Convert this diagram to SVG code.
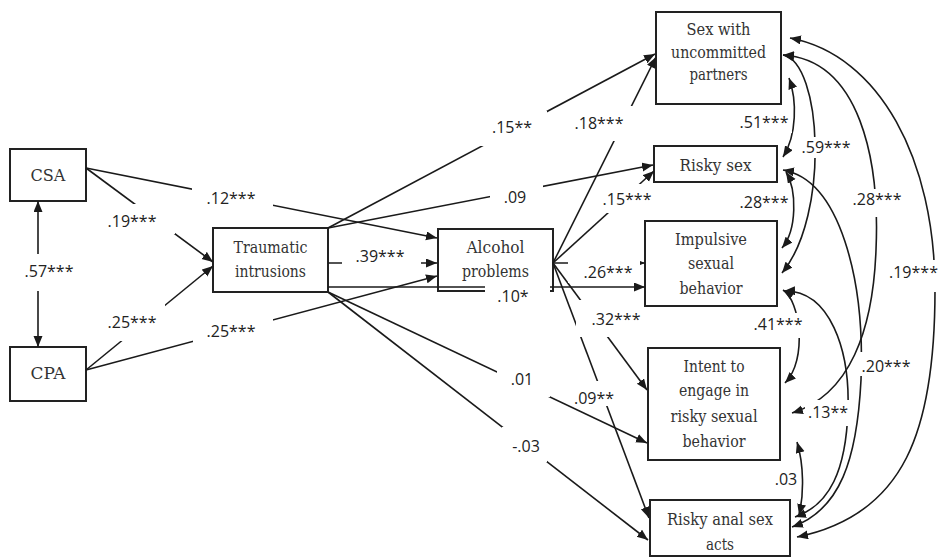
<svg xmlns="http://www.w3.org/2000/svg" width="941" height="558" viewBox="0 0 941 558">
<style>
.box{fill:#fff;stroke:#222;stroke-width:2}
.nt{font-family:'DejaVu Serif',serif;font-size:16.5px;fill:#333;text-anchor:middle}
.ln{fill:none;stroke:#1a1a1a;stroke-width:1.6}
.lb{font-family:'Open Sans','Liberation Sans',sans-serif;font-size:16px;fill:#222;text-anchor:middle}
.bg{fill:#fff;stroke:none}
</style>
<defs>
<marker id="ah" markerUnits="userSpaceOnUse" markerWidth="12" markerHeight="10" refX="11" refY="4.5" orient="auto-start-reverse">
<path d="M0,0 L11,4.5 L0,9 z" fill="#1a1a1a"/>
</marker>
</defs>
<rect width="941" height="558" fill="#fff"/>

<g id="n-csa"><rect class="box" x="10" y="149" width="76" height="52"/><text class="nt" x="48" y="181" textLength="35" lengthAdjust="spacingAndGlyphs">CSA</text></g>
<g id="n-cpa"><rect class="box" x="10" y="347" width="76" height="54"/><text class="nt" x="48" y="379" textLength="35" lengthAdjust="spacingAndGlyphs">CPA</text></g>
<g id="n-trauma"><rect class="box" x="213" y="228" width="115" height="64"/><text class="nt" x="270.5" y="253" textLength="74" lengthAdjust="spacingAndGlyphs">Traumatic</text><text class="nt" x="270.5" y="277" textLength="71" lengthAdjust="spacingAndGlyphs">intrusions</text></g>
<g id="n-alcohol"><rect class="box" x="438" y="229" width="115" height="62"/><text class="nt" x="495.5" y="253" textLength="58" lengthAdjust="spacingAndGlyphs">Alcohol</text><text class="nt" x="495.5" y="277" textLength="67" lengthAdjust="spacingAndGlyphs">problems</text></g>
<g id="n-sex"><rect class="box" x="656" y="12" width="125" height="92"/><text class="nt" x="718.5" y="35" textLength="64" lengthAdjust="spacingAndGlyphs">Sex with</text><text class="nt" x="718.5" y="58" textLength="95" lengthAdjust="spacingAndGlyphs">uncommitted</text><text class="nt" x="718.5" y="80" textLength="58" lengthAdjust="spacingAndGlyphs">partners</text></g>
<g id="n-risky"><rect class="box" x="654" y="146" width="123" height="36"/><text class="nt" x="715.5" y="171" textLength="72" lengthAdjust="spacingAndGlyphs">Risky sex</text></g>
<g id="n-impulsive"><rect class="box" x="645" y="221" width="132" height="85"/><text class="nt" x="711" y="245" textLength="72" lengthAdjust="spacingAndGlyphs">Impulsive</text><text class="nt" x="711" y="269" textLength="46" lengthAdjust="spacingAndGlyphs">sexual</text><text class="nt" x="711" y="294" textLength="63" lengthAdjust="spacingAndGlyphs">behavior</text></g>
<g id="n-intent"><rect class="box" x="648" y="348" width="132" height="112"/><text class="nt" x="714" y="372" textLength="61" lengthAdjust="spacingAndGlyphs">Intent to</text><text class="nt" x="714" y="396" textLength="70" lengthAdjust="spacingAndGlyphs">engage in</text><text class="nt" x="714" y="422" textLength="87" lengthAdjust="spacingAndGlyphs">risky sexual</text><text class="nt" x="714" y="447" textLength="63" lengthAdjust="spacingAndGlyphs">behavior</text></g>
<g id="n-anal"><rect class="box" x="650" y="500" width="140" height="56"/><text class="nt" x="720" y="525" textLength="106" lengthAdjust="spacingAndGlyphs">Risky anal sex</text><text class="nt" x="720" y="550" textLength="28" lengthAdjust="spacingAndGlyphs">acts</text></g>

<g id="connectors">
<path class="ln" d="M38,201 L38,347" marker-start="url(#ah)" marker-end="url(#ah)"/>
<path class="ln" d="M86,168 L213,262" marker-end="url(#ah)"/>
<path class="ln" d="M86,370 L213,266" marker-end="url(#ah)"/>
<path class="ln" d="M86,168 L437,238" marker-end="url(#ah)"/>
<path class="ln" d="M86,370 L437,276" marker-end="url(#ah)"/>
<path class="ln" d="M328,263 L437,263" marker-end="url(#ah)"/>
<path class="ln" d="M328,228 L655,54" marker-end="url(#ah)"/>
<path class="ln" d="M328,228 L653,165" marker-end="url(#ah)"/>
<path class="ln" d="M328,287 L645,287" marker-end="url(#ah)"/>
<path class="ln" d="M328,292 L647,443" marker-end="url(#ah)"/>
<path class="ln" d="M328,292 L648,540" marker-end="url(#ah)"/>
<path class="ln" d="M553,263 L656,57" marker-end="url(#ah)"/>
<path class="ln" d="M553,263 L654,171" marker-end="url(#ah)"/>
<path class="ln" d="M553,263 L645,263" marker-end="url(#ah)"/>
<path class="ln" d="M553,263 L647,390" marker-end="url(#ah)"/>
<path class="ln" d="M553,263 L649,518" marker-end="url(#ah)"/>
<path class="ln" d="M789,78 C797,100 797,135 783,157" marker-start="url(#ah)" marker-end="url(#ah)"/>
<path class="ln" d="M783,55 C822,62 830,215 782,273" marker-start="url(#ah)" marker-end="url(#ah)"/>
<path class="ln" d="M783,55 C860,60 880,160 876,250 C873,330 850,395 792,413" marker-start="url(#ah)" marker-end="url(#ah)"/>
<path class="ln" d="M790,38 C880,55 935,160 935,290 C935,430 905,515 797,537" marker-start="url(#ah)" marker-end="url(#ah)"/>
<path class="ln" d="M786,172 C797,190 797,230 782,248" marker-start="url(#ah)" marker-end="url(#ah)"/>
<path class="ln" d="M783,170 C840,180 865,280 861,380 C857,460 840,510 792,527" marker-start="url(#ah)" marker-end="url(#ah)"/>
<path class="ln" d="M783,290 C800,300 808,360 785,383" marker-start="url(#ah)" marker-end="url(#ah)"/>
<path class="ln" d="M784,291 C830,290 850,350 848,410 C846,470 830,505 795,517" marker-start="url(#ah)" marker-end="url(#ah)"/>
<path class="ln" d="M797,442 C804,465 804,495 799,515" marker-start="url(#ah)" marker-end="url(#ah)"/>
</g>

<g id="labels">
<rect class="bg" x="22" y="254" width="54" height="37"/><text class="lb" x="49" y="277">.57***</text>
<rect class="bg" x="104" y="204" width="71" height="30"/><text class="lb" x="132" y="227">.19***</text>
<rect class="bg" x="105" y="302" width="60" height="39"/><text class="lb" x="132" y="328">.25***</text>
<rect class="bg" x="192" y="186" width="81" height="24"/><text class="lb" x="231" y="204">.12***</text>
<rect class="bg" x="193" y="318" width="80" height="26"/><text class="lb" x="231" y="337">.25***</text>
<rect class="bg" x="342" y="249" width="79" height="19"/><text class="lb" x="380" y="262">.39***</text>
<rect class="bg" x="478" y="111" width="69" height="35"/><text class="lb" x="512" y="133">.15**</text>
<rect class="bg" x="571" y="106" width="62" height="35"/><text class="lb" x="599" y="129">.18***</text>
<rect class="bg" x="490" y="185" width="53" height="22"/><text class="lb" x="515" y="203">.09</text>
<rect class="bg" x="601" y="184" width="54" height="29"/><text class="lb" x="627" y="205">.15***</text>
<rect class="bg" x="568" y="257" width="72" height="26"/><text class="lb" x="608" y="278">.26***</text>
<rect class="bg" x="485" y="280" width="65" height="26"/><text class="lb" x="513" y="302">.10*</text>
<rect class="bg" x="576" y="300" width="68" height="37"/><text class="lb" x="616" y="325">.32***</text>
<rect class="bg" x="497" y="369" width="53" height="28"/><text class="lb" x="522" y="385">.01</text>
<rect class="bg" x="571" y="381" width="46" height="25"/><text class="lb" x="594" y="404">.09**</text>
<rect class="bg" x="502" y="427" width="45" height="35"/><text class="lb" x="526" y="452">-.03</text>
<rect class="bg" x="736" y="112" width="56" height="21"/><text class="lb" x="764" y="128">.51***</text>
<rect class="bg" x="800" y="137" width="52" height="21"/><text class="lb" x="826" y="153">.59***</text>
<rect class="bg" x="737" y="192" width="54" height="21"/><text class="lb" x="764" y="208">.28***</text>
<rect class="bg" x="850" y="189" width="55" height="28"/><text class="lb" x="877" y="205">.28***</text>
<rect class="bg" x="888" y="260" width="53" height="32"/><text class="lb" x="889" y="278" style="text-anchor:start">.19***</text>
<rect class="bg" x="751" y="313" width="54" height="25"/><text class="lb" x="778" y="330">.41***</text>
<rect class="bg" x="858" y="352" width="56" height="24"/><text class="lb" x="886" y="372">.20***</text>
<rect class="bg" x="805" y="400" width="47" height="26"/><text class="lb" x="828" y="418">.13**</text>
<rect class="bg" x="773" y="468" width="26" height="22"/><text class="lb" x="786" y="485">.03</text>
</g>
</svg>
